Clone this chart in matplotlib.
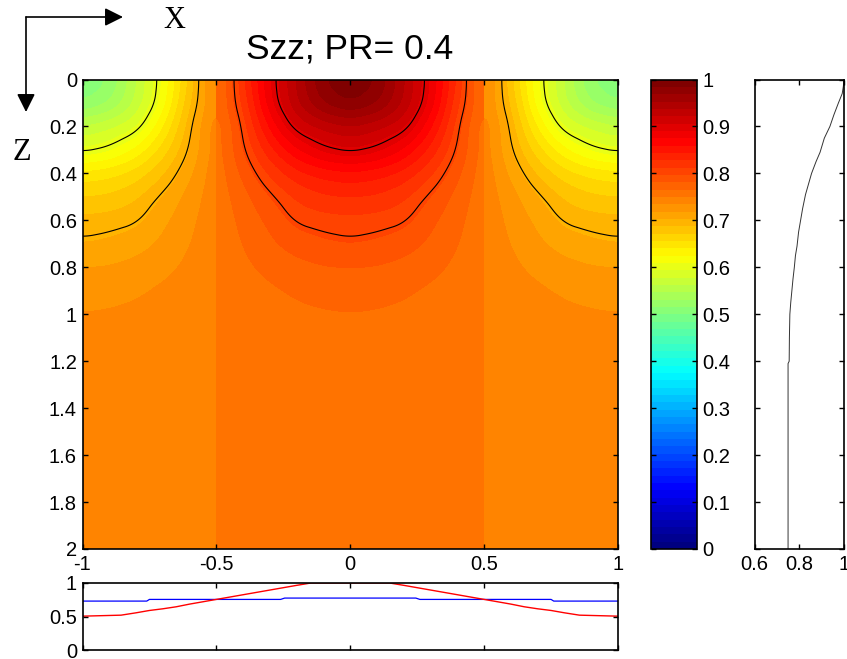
import numpy as np
import matplotlib
matplotlib.use("Agg")
import matplotlib.pyplot as plt
from matplotlib.colors import LinearSegmentedColormap

plt.rcParams['font.family'] = ['Liberation Sans', 'DejaVu Sans']
plt.rcParams['axes.unicode_minus'] = False

# Szz in the centre panel
# (the outer panels are its mirror image around 0.75)
offset = [0, 0.1, 0.2, 0.3, 0.4, 0.45, 0.5]
depth = [0, 0.1, 0.2, 0.3, 0.4, 0.5, 0.6, 0.7, 0.8, 0.9, 1.0, 1.2, 2.0]
szz = [
    [1.000, 0.985, 0.940, 0.890, 0.825, 0.790, 0.750],
    [0.985, 0.970, 0.935, 0.885, 0.815, 0.790, 0.755],
    [0.937, 0.927, 0.910, 0.862, 0.805, 0.775, 0.755],
    [0.905, 0.895, 0.872, 0.838, 0.797, 0.775, 0.755],
    [0.855, 0.850, 0.838, 0.815, 0.785, 0.770, 0.755],
    [0.828, 0.825, 0.815, 0.796, 0.775, 0.765, 0.755],
    [0.808, 0.806, 0.802, 0.785, 0.770, 0.762, 0.755],
    [0.797, 0.794, 0.788, 0.778, 0.766, 0.760, 0.755],
    [0.781, 0.780, 0.776, 0.770, 0.762, 0.757, 0.754],
    [0.772, 0.771, 0.768, 0.763, 0.758, 0.755, 0.753],
    [0.765, 0.764, 0.762, 0.758, 0.755, 0.753, 0.752],
    [0.755, 0.755, 0.754, 0.753, 0.752, 0.752, 0.751],
    [0.751, 0.751, 0.751, 0.751, 0.751, 0.751, 0.751],
]

# bottom panel
surf_x = [-1, -0.856, -0.8, -0.75, -0.7, -0.65, -0.6, -0.55, -0.5, -0.45, -0.4, -0.35, -0.3, -0.25, -0.2, -0.147,
          0.147, 0.2, 0.25, 0.3, 0.35, 0.4, 0.45, 0.5, 0.55, 0.6, 0.65, 0.7, 0.75, 0.8, 0.856, 1]
surf_val = [0.505, 0.52, 0.555, 0.59, 0.615, 0.645, 0.685, 0.72, 0.755, 0.79, 0.825, 0.86, 0.895, 0.93, 0.965, 1.0,
            1.0, 0.965, 0.93, 0.895, 0.86, 0.825, 0.79, 0.755, 0.72, 0.685, 0.645, 0.615, 0.59, 0.555, 0.52, 0.505]
deep_x = [-1, -0.76, -0.75, -0.26, -0.245, 0.245, 0.26, 0.75, 0.76, 1]
deep_val = [0.73, 0.73, 0.755, 0.755, 0.775, 0.775, 0.755, 0.755, 0.73, 0.73]

# right panel
prof_z = [0, 0.03, 0.06, 0.1, 0.15, 0.2, 0.25, 0.31, 0.35, 0.4, 0.45, 0.49, 0.55, 0.6, 0.65, 0.71, 0.75, 0.8, 0.85,
          0.91, 0.95, 1.0, 1.1, 1.2, 1.21, 2.0]
prof_val = [1.0, 0.997, 0.992, 0.975, 0.955, 0.937, 0.912, 0.893, 0.875, 0.855, 0.84, 0.828, 0.815, 0.806, 0.797,
            0.79, 0.783, 0.778, 0.772, 0.766, 0.762, 0.758, 0.756, 0.755, 0.75, 0.75]

W, H = 847, 659


def make_axes(x0, y0, x1, y1):
    return fig.add_axes([x0 / W, 1 - y1 / H, (x1 - x0) / W, (y1 - y0) / H])


def style(ax):
    ax.tick_params(direction='in', length=3.5, width=1, top=True, right=True, labelsize=14.5, pad=4)
    ax.set_axisbelow(False)
    for s in ax.spines.values():
        s.set_linewidth(1.2)


def box(a, n):
    # moving average along axis 0, reflected at the ends
    p = np.pad(a, ((n, n), (0, 0)), mode='reflect')
    c = np.cumsum(np.vstack([np.zeros((1, a.shape[1])), p]), axis=0)
    return ((c[2 * n + 1:] - c[:-(2 * n + 1)]) / (2 * n + 1))


def resample(f):
    # the table is coarse, this only rounds off its corners for the contours
    fu = np.linspace(0, 0.5, 101)
    fz = np.linspace(0, 2, 401)
    a = np.array([np.interp(fu, offset, row) for row in f])
    b = np.array([np.interp(fz, depth, col) for col in a.T]).T
    b = box(box(b, 8).T, 8).T
    return fu, fz, b


fig = plt.figure(figsize=(W / 100, H / 100), dpi=100)

ax = make_axes(82.5, 79.5, 618, 549)
u, z, f = resample(np.array(szz))
levels = np.linspace(0, 1, 65)
# matlab style jet, yellow at 0.625 and red at 0.875
jet = LinearSegmentedColormap.from_list('matjet', [
    (0, (0, 0, 0.5)), (0.125, (0, 0, 1)), (0.375, (0, 1, 1)), (0.625, (1, 1, 0)),
    (0.875, (1, 0, 0)), (1, (0.5, 0, 0))], N=64)
panels = [
    (-1 + u, 1.5 - f),
    (np.concatenate([-u[::-1], u[1:]]), np.hstack([f[:, ::-1], f[:, 1:]])),
    ((1 - u)[::-1], (1.5 - f)[:, ::-1]),
]
for px, pf in panels:
    cs = ax.contourf(px, z, pf, levels=levels, cmap=jet, vmin=0, vmax=1, antialiased=False)
    ax.contour(px, z, pf, levels=[0.6, 0.7, 0.8, 0.9], colors='k', linewidths=0.8)
ax.set_xlim(-1, 1)
ax.set_ylim(2, 0)
ax.set_xticks([-1, -0.5, 0, 0.5, 1])
ax.set_xticklabels(['-1', '-0.5', '0', '0.5', '1'])
ax.set_yticks(np.arange(0, 2.01, 0.2))
ax.set_yticklabels(['0', '0.2', '0.4', '0.6', '0.8', '1', '1.2', '1.4', '1.6', '1.8', '2'])
style(ax)

ax2 = make_axes(82.5, 583, 618, 650)
ax2.plot(deep_x, deep_val, color='#0000ff', lw=0.9)
ax2.plot(surf_x, surf_val, color='#ff0000', lw=1.0)
ax2.set_xlim(-1, 1)
ax2.set_ylim(0, 1)
ax2.set_xticks([-1, -0.5, 0, 0.5, 1])
ax2.set_xticklabels([])
ax2.set_yticks([0, 0.5, 1])
ax2.set_yticklabels(['0', '0.5', '1'])
style(ax2)

cax = make_axes(650.5, 79.5, 697, 549)
cb = fig.colorbar(cs, cax=cax, ticks=np.arange(0, 1.01, 0.1))
cb.set_ticklabels(['0', '0.1', '0.2', '0.3', '0.4', '0.5', '0.6', '0.7', '0.8', '0.9', '1'])
cax.tick_params(direction='in', length=3.5, width=1, left=True, right=True, labelsize=14.5, pad=4)
cb.outline.set_linewidth(1.2)

ax3 = make_axes(754.5, 79.5, 844, 549)
ax3.plot(prof_val, prof_z, color='#333333', lw=0.7)
ax3.set_xlim(0.6, 1)
ax3.set_ylim(2, 0)
ax3.set_xticks([0.6, 0.8, 1])
ax3.set_xticklabels(['0.6', '0.8', '1'])
ax3.set_yticks(np.arange(0, 2.01, 0.2))
ax3.set_yticklabels([])
style(ax3)

fig.text(349.5 / W, 1 - 49 / H, 'Szz; PR= 0.4', fontsize=25.5, ha='center', va='center')
fig.text(174 / W, 1 - 20 / H, 'X', fontsize=22, family='Liberation Serif', ha='center', va='center')
fig.text(22 / W, 1 - 152 / H, 'Z', fontsize=22, family='Liberation Serif', ha='center', va='center')

arrow = dict(arrowstyle='-|>,head_length=1.1,head_width=0.55', color='k', lw=1.2, shrinkA=0, shrinkB=0)
ax.annotate('', xy=(123 / W, 1 - 17 / H), xytext=(26 / W, 1 - 17 / H), xycoords='figure fraction',
            textcoords='figure fraction', arrowprops=arrow, annotation_clip=False)
ax.annotate('', xy=(26 / W, 1 - 112 / H), xytext=(26 / W, 1 - 17 / H), xycoords='figure fraction',
            textcoords='figure fraction', arrowprops=arrow, annotation_clip=False)

fig.savefig('out.png', dpi=100)
